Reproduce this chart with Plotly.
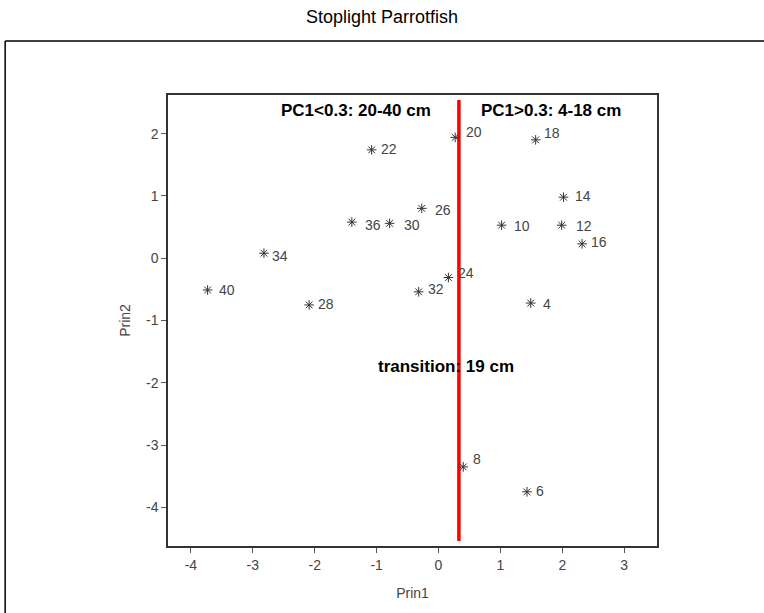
import plotly.graph_objects as go

# ---- data ----
prin1 = [-3.73, -2.82, -2.09, -1.40, -0.79, -1.08, -0.27, -0.32, 0.16, 0.27,
         1.57, 2.02, 1.02, 1.99, 2.32, 1.49, 0.40, 1.43]
prin2 = [-0.51, 0.08, -0.75, 0.58, 0.56, 1.74, 0.80, -0.54, -0.31, 1.94,
         1.90, 0.98, 0.53, 0.53, 0.23, -0.72, -3.35, -3.75]
sizes_cm = ["40", "34", "28", "36", "30", "22", "26", "32", "24", "20",
            "18", "14", "10", "12", "16", "4", "8", "6"]

pc1_cut = [0.33, 0.33]
cut_span = [-4.54, 2.54]

x_ticks = [-4, -3, -2, -1, 0, 1, 2, 3]
y_ticks = [-4, -3, -2, -1, 0, 1, 2]

# label placement offsets (pixels, style only)
label_dx = [19, 16, 17, 21, 22, 17, 21, 17, 18, 19, 16, 19, 20, 22, 17, 16, 14, 13]
label_dy = [0, -3, 1, -3, -2, 1, -2, 3, 5, 5, 7, 1, -1, -1, 2, -1, 8, 1]

FONT = "Liberation Sans, Arial, sans-serif"

fig = go.Figure()

fig.add_trace(go.Scatter(
    x=pc1_cut, y=cut_span, mode="lines",
    line=dict(color="#ff0000", width=3.5), hoverinfo="skip", showlegend=False))

fig.add_trace(go.Scatter(
    x=prin1, y=prin2, mode="markers",
    marker=dict(symbol="asterisk-open", size=8, color="#333333",
                line=dict(color="#333333", width=1)),
    showlegend=False))

for xv, yv, s, dx, dy in zip(prin1, prin2, sizes_cm, label_dx, label_dy):
    fig.add_annotation(x=xv, y=yv, text=s, showarrow=False, xanchor="center", yanchor="middle",
                       xshift=dx, yshift=dy,
                       font=dict(family=FONT, size=14, color="#444444"))

bold = dict(family=FONT, size=17, color="#000000")
fig.add_annotation(x=-1.34, y=2.37, text="<b>PC1<0.3: 20-40 cm</b>", showarrow=False, font=bold)
fig.add_annotation(x=1.81, y=2.37, text="<b>PC1>0.3: 4-18 cm</b>", showarrow=False, font=bold)
fig.add_annotation(x=0.12, y=-1.74, text="<b>transition: 19 cm</b>", showarrow=False, font=bold)

# outer frame (left and top edges visible)
fig.add_shape(type="line", xref="paper", yref="paper", x0=-0.333, x1=-0.333, y0=1.1197, y1=-0.5,
              line=dict(color="#000000", width=1.5))
fig.add_shape(type="line", xref="paper", yref="paper", x0=-0.333, x1=1.5, y0=1.1197, y1=1.1197,
              line=dict(color="#000000", width=1.5))

axis_common = dict(
    showgrid=False, zeroline=False, showline=True, mirror=True,
    linecolor="#333333", linewidth=1.5,
    ticks="outside", ticklen=5, tickcolor="#555555",
    tickfont=dict(family=FONT, size=14, color="#444444"),
)

fig.update_layout(
    width=764, height=613,
    margin=dict(l=168, r=107, t=95, b=67),
    paper_bgcolor="white", plot_bgcolor="white",
    title=dict(text="Stoplight Parrotfish", x=0.5, xref="container", y=0.972, yref="container",
               xanchor="center", yanchor="middle",
               font=dict(family=FONT, size=18, color="#000000")),
    xaxis=dict(range=[-4.37, 3.53], tickvals=x_ticks, ticktext=[str(v) for v in x_ticks],
               title=dict(text="Prin1", font=dict(family=FONT, size=14, color="#444444"), standoff=17),
               **axis_common),
    yaxis=dict(range=[-4.62, 2.62], tickvals=y_ticks, ticktext=[str(v) for v in y_ticks],
               title=dict(text="Prin2", font=dict(family=FONT, size=14, color="#444444"), standoff=12),
               **axis_common),
)

fig.write_html("out.html")
